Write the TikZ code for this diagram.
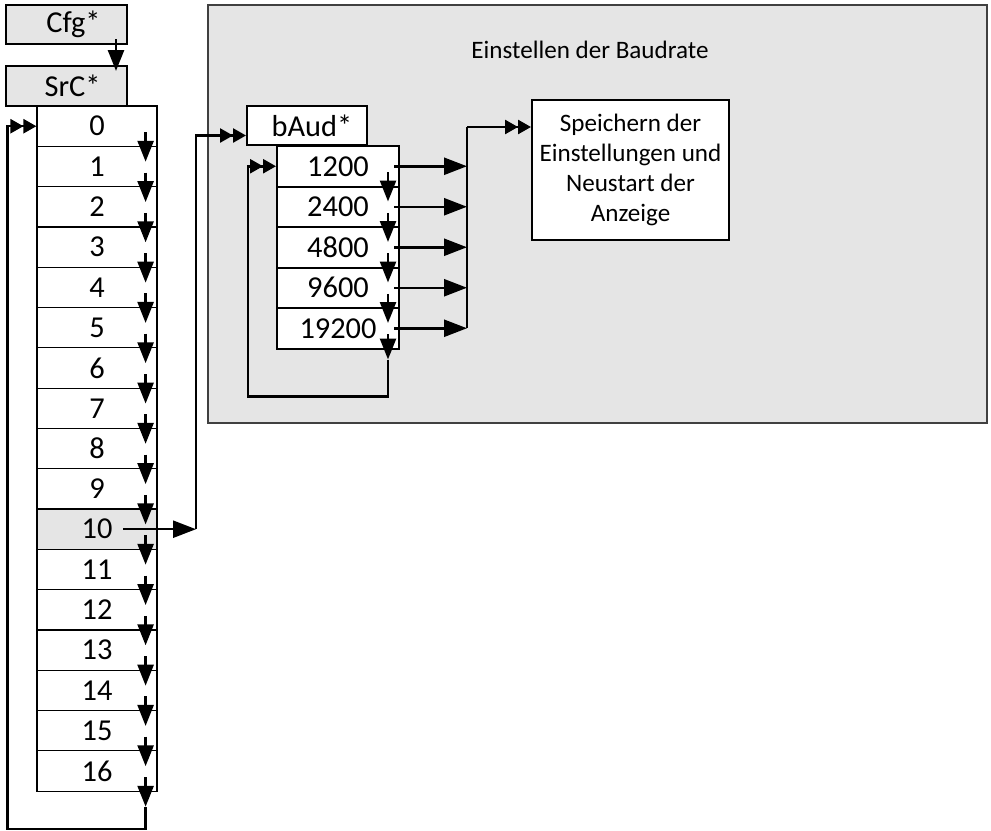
\documentclass[tikz,border=0pt]{standalone}
\usepackage{fontspec}
\setmainfont{Carlito}
\usetikzlibrary{arrows.meta,positioning,calc}
\definecolor{boxgray}{gray}{0.9}
\definecolor{framegray}{gray}{0.25}

\begin{document}
\begin{tikzpicture}[
  x=1bp, y=-1bp,
  lbl/.style={font=\fontsize{30.5}{36}\selectfont},
  txt/.style={font=\fontsize{25.2}{30}\selectfont},
  box/.style={rectangle, draw=black, line width=2bp, fill=white, inner sep=0pt, lbl},
  menubox/.style={box, fill=boxgray, minimum width=121bp, minimum height=39bp},
  rowbox/.style={box, line width=1.2bp, minimum width=120bp, minimum height=40.3bp},
  subbox/.style={box, minimum width=122bp, minimum height=40.5bp},
  arr/.style={-{Triangle[length=21bp,width=16bp]}, line width=2.5bp},
  harr/.style={-{Triangle[length=23bp,width=17bp]}, line width=2.5bp},
  darr/.style={-{Triangle[length=13bp,width=14bp]Triangle[length=13bp,width=14bp]}, line width=2.5bp},
  ln/.style={line width=2.5bp}
]
\useasboundingbox (0,0) rectangle (991,831);

% Baud rate panel
\node[draw=framegray, line width=1.2bp, fill=boxgray, minimum width=779bp, minimum height=418bp, inner sep=0pt] (panel) at (597.5,214) {};
\node[txt] (title) at (590,50) {Einstellen der Baudrate};

% Menu
\node[menubox] (cfg) at (66.5,24.5) {\hspace*{14bp}Cfg*};
\node[menubox, minimum height=40bp] (src) at (66.5,86) {\hspace*{12bp}SrC*};

% Source list
\foreach \i in {0,...,16}
  \node[rowbox] (r\i) at (97,{126.2+40.3*\i}) {\i};
\node[rowbox, fill=boxgray] (r10) at (r10.center) {10};

% Baud list
\node[box, minimum width=120bp, minimum height=39bp] (baud) at (307,125.5) {\hspace*{10bp}bAud*};
\foreach \r [count=\k] in {1200,2400,4800,9600,19200}
  \node[subbox] (s\k) at (338,{166.25+40.5*(\k-1)}) {\r};

% Store
\node[box, txt, minimum width=197bp, minimum height=140bp, align=center] (store) at (630.5,170) {Speichern der\\Einstellungen und\\Neustart der\\Anzeige};

% Helper points
\coordinate (c10) at ($(r10.center)+(99,0)$);
\coordinate (bus) at (467,127);
\coordinate (loopA) at ($(r16.south east)+(-12,15)$);
\coordinate (loopB) at ($(s5.south east)+(-12,10)$);

% Arrows
\draw[arr] ($(cfg.south east)+(-12,-6)$) -- ($(src.north east)+(-12,6)$);
\foreach \i [count=\j from 1] in {0,...,15}
  \draw[arr] ($(r\i.east)+(-12,6)$) -- ($(r\j.north east)+(-12,16)$);
\draw[arr] ($(r16.east)+(-12,6)$) -- (loopA);
\draw[darr] (loopA) -- ++(0,22) -| ($(r0.west)+(-29,0)$) -- (r0.west);

\draw[harr] ($(r10.center)+(26,0)$) -- (c10);
\draw[darr] (c10) |- ($(baud.west)+(0,10)$);

\foreach \i [count=\j from 2] in {1,...,4}
  \draw[arr] ($(s\i.east)+(-12,6)$) -- ($(s\j.north east)+(-12,16)$);
\draw[arr] ($(s5.east)+(-12,6)$) -- (loopB);
\draw[darr] (loopB) -- ++(0,37) -| ($(s1.west)+(-28,0)$) -- (s1.west);

\foreach \i in {1,...,5}
  \draw[harr] ($(s\i.east)+(-6,0)$) -- (bus |- s\i.east);
\draw[ln] (bus |- s5.east) -- (bus);
\draw[darr] (bus) -- (bus -| store.west);

\end{tikzpicture}
\end{document}
